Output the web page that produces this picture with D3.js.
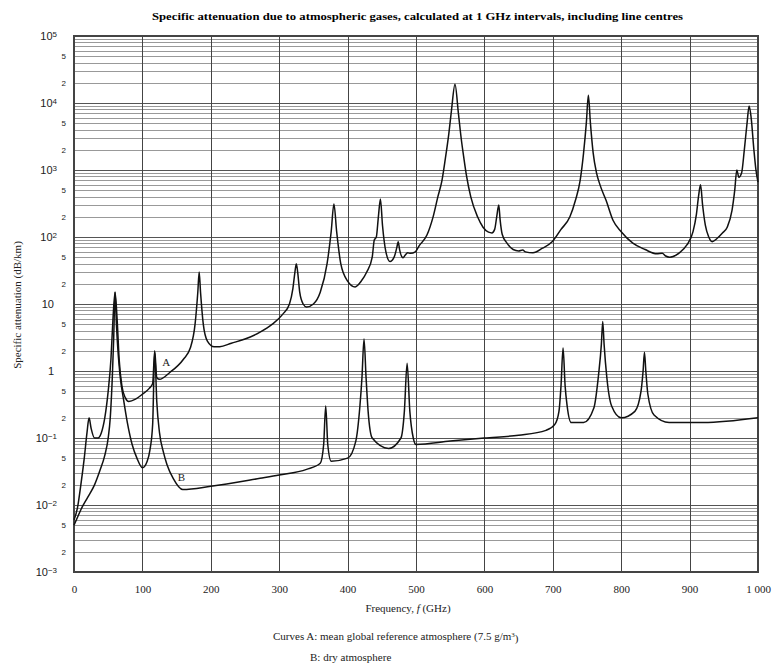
<!DOCTYPE html>
<html>
<head>
<meta charset="utf-8">
<script src="https://cdn.jsdelivr.net/npm/d3@7"></script>
<style>
	body { margin: 0; background: #fff; }
	svg { display: block; font-family: "Liberation Serif", "DejaVu Serif", serif; }
	.grid line { shape-rendering: crispEdges; }
	.grid .domain { display: none; }
</style>
</head>
<body>
<svg id="chart" width="772" height="663"></svg>
<script>
/*global d3 */
// Curve A: mean global reference atmosphere (7.5 g/m3), dB/km
var freqA = [0, 5, 10, 15, 19, 22, 25, 30, 35, 40, 45, 50, 54, 57, 60, 63, 66, 70, 75, 80,
	90, 100, 110, 115, 118, 121, 125, 140, 160, 170, 177, 181, 183, 185, 189, 195, 205, 213, 230, 250,
	272, 290, 305, 315, 320, 323, 325, 327, 330, 335, 340, 350, 360, 370, 376, 380, 384, 390, 400, 411,
	420, 428, 436, 439, 442, 445, 448, 451, 456, 462, 468, 472, 474, 476, 481, 485, 488, 492, 499, 505,
	516, 525, 532, 538, 543, 548, 552, 557, 562, 566, 570, 574, 580, 590, 598, 606, 611, 615, 618, 621,
	623, 626, 633, 642, 650, 656, 660, 671, 685, 699, 712, 725, 733, 740, 745, 749, 752, 755, 759, 764,
	769, 778, 788, 800, 817, 835, 852, 860, 865, 871, 885, 896, 905, 910, 913, 916, 919, 923, 928, 933,
	940, 948, 955, 962, 966, 969, 972, 976, 980, 984, 987, 990, 994, 997, 1000];
var attA = [0.006, 0.009, 0.02, 0.05, 0.12, 0.2, 0.14, 0.1, 0.1, 0.12, 0.2, 0.5, 1.5, 6, 15, 6, 1.5, 0.6, 0.4, 0.35,
	0.38, 0.45, 0.55, 0.65, 2.0, 0.8, 0.75, 0.95, 1.5, 2.2, 5, 15, 30, 15, 5, 2.8, 2.3, 2.3, 2.6, 3.0,
	3.8, 5, 7, 10, 17, 30, 40, 30, 15, 10, 9, 10, 15, 40, 120, 310, 120, 40, 22, 18,
	22, 30, 50, 90, 100, 200, 370, 150, 60, 43, 50, 70, 85, 65, 49, 55, 58, 57, 60, 75,
	107, 200, 400, 700, 1500, 3500, 8000, 19000, 7000, 3000, 1500, 800, 400, 200, 140, 118, 115, 130, 200, 300,
	180, 110, 81, 65, 62, 64, 60, 58, 68, 85, 130, 200, 350, 700, 1800, 5000, 13000, 5000, 1800, 900,
	600, 350, 178, 120, 81, 65, 56, 57, 52, 50, 58, 76, 120, 220, 400, 600, 300, 150, 100, 85,
	95, 115, 140, 250, 500, 1000, 780, 900, 2000, 5000, 9000, 6000, 2000, 1000, 660];

// Curve B: dry atmosphere, dB/km
var freqB = [0, 5, 10, 20, 30, 38, 45, 50, 53, 56, 58, 60, 62, 64, 66, 68, 72, 78, 85, 92,
	100, 107, 111, 115, 118, 121, 125, 131, 136, 145, 159, 200, 272, 300, 340, 360, 365, 368, 371, 376,
	400, 412, 418, 421, 424, 427, 430, 436, 460, 478, 483, 487, 491, 496, 500, 550, 600, 650, 690, 703,
	709, 712, 715, 718, 721, 727, 745, 760, 767, 771, 773, 775, 779, 786, 800, 820, 829, 832, 834, 836,
	839, 848, 870, 920, 1000];
var attB = [0.005, 0.0065, 0.0085, 0.013, 0.02, 0.033, 0.055, 0.1, 0.2, 0.8, 3, 15, 5, 2.2, 1.2, 0.75, 0.4, 0.17, 0.08, 0.05,
	0.036, 0.045, 0.066, 0.16, 1.9, 0.35, 0.12, 0.06, 0.04, 0.025, 0.017, 0.019, 0.025, 0.028, 0.034, 0.042, 0.08, 0.3, 0.08, 0.045,
	0.05, 0.09, 0.3, 0.8, 3.0, 0.8, 0.25, 0.1, 0.07, 0.1, 0.25, 1.3, 0.25, 0.1, 0.08, 0.09, 0.1, 0.11, 0.13, 0.16,
	0.25, 0.6, 2.2, 0.6, 0.3, 0.17, 0.17, 0.28, 0.9, 2.5, 5.5, 2.5, 0.8, 0.3, 0.2, 0.25, 0.5, 1.0, 1.9, 1.0,
	0.45, 0.22, 0.17, 0.17, 0.2];

var freqTicks = [0, 100, 200, 300, 400, 500, 600, 700, 800, 900, 1000];
var freqTickLabels = ['0', '100', '200', '300', '400', '500', '600', '700', '800', '900', '1 000'];
var decadeExps = [-3, -2, -1, 0, 1, 2, 3, 4, 5];
var curveNames = ['A', 'B'];
var curveLabelFreq = [135, 157];
var curveLabelAtt = [1.36, 0.026];

(function () {
	'use strict';
	var svg = d3.select('#chart'),
		left = 74, right = 758, top = 36, bottom = 572,
		x, y, gridH, minorVals, labelVals, line, yAxis, xAxis, g;

	x = d3.scaleLinear().domain([0, 1000]).range([left, right]);
	y = d3.scaleLog().domain([1e-3, 1e5]).range([bottom, top]);

	// horizontal grid: 1..9 for every decade
	gridH = [];
	decadeExps.forEach(function (e) {
		var k;
		for (k = 1; k <= 9; k++) {
			if (e < 5 || k === 1) {
				gridH.push(k * Math.pow(10, e));
			}
		}
	});

	svg.append('g')
		.attr('class', 'grid')
		.attr('transform', 'translate(' + left + ',0)')
		.call(d3.axisLeft(y).tickValues(gridH).tickSize(-(right - left)).tickFormat(''))
		.selectAll('line')
		.attr('stroke', function (d) {
			var m = d / Math.pow(10, Math.floor(Math.log10(d) + 1e-9));
			return Math.abs(m - 1) < 1e-6 ? '#555' : '#999';
		})
		.attr('stroke-width', 1);

	svg.append('g')
		.attr('class', 'grid')
		.attr('transform', 'translate(0,' + bottom + ')')
		.call(d3.axisBottom(x).tickValues(freqTicks).tickSize(-(bottom - top)).tickFormat(''))
		.selectAll('line')
		.attr('stroke', '#444')
		.attr('stroke-width', 1);

	// frame
	svg.append('rect')
		.attr('x', left).attr('y', top)
		.attr('width', right - left).attr('height', bottom - top)
		.attr('fill', 'none').attr('stroke', '#444').attr('stroke-width', 1.2)
		.attr('shape-rendering', 'crispEdges');

	// y tick labels
	labelVals = [];
	minorVals = {};
	decadeExps.forEach(function (e) {
		labelVals.push(Math.pow(10, e));
		if (e < 5) {
			labelVals.push(2 * Math.pow(10, e));
			labelVals.push(5 * Math.pow(10, e));
			minorVals[2 * Math.pow(10, e)] = '2';
			minorVals[5 * Math.pow(10, e)] = '5';
		}
	});

	yAxis = d3.axisLeft(y).tickValues(labelVals).tickSize(0).tickFormat('');
	g = svg.append('g')
		.attr('transform', 'translate(' + left + ',0)')
		.call(yAxis);
	g.select('.domain').remove();
	g.selectAll('.tick text').each(function (d) {
		var t = d3.select(this),
			e = Math.round(Math.log10(d));
		t.attr('fill', '#222').attr('dy', '0.35em');
		if (minorVals[d]) {
			t.attr('x', -8).attr('font-size', 8).text(minorVals[d]);
		} else if (e === 0 || e === 1) {
			t.attr('x', -20).attr('font-size', 11).text(e === 0 ? '1' : '10');
		} else {
			t.attr('x', -17).attr('font-size', 11).text('10');
			t.append('tspan')
				.attr('dy', '-0.45em')
				.attr('font-size', 8)
				.text(e < 0 ? '\u2212' + (-e) : String(e));
		}
	});

	// x tick labels
	xAxis = d3.axisBottom(x).tickValues(freqTicks).tickSize(0).tickPadding(13)
		.tickFormat(function (d, i) { return freqTickLabels[i]; });
	g = svg.append('g')
		.attr('transform', 'translate(0,' + bottom + ')')
		.call(xAxis);
	g.select('.domain').remove();
	g.selectAll('.tick text').attr('font-size', 11).attr('fill', '#222')
		.attr('font-family', '"Liberation Serif", serif');

	// curves
	line = d3.line()
		.x(function (d) { return x(d[0]); })
		.y(function (d) { return y(d[1]); })
		.curve(d3.curveMonotoneX);

	[[freqA, attA], [freqB, attB]].forEach(function (s) {
		svg.append('path')
			.datum(d3.zip(s[0], s[1]))
			.attr('d', line)
			.attr('fill', 'none')
			.attr('stroke', '#111')
			.attr('stroke-width', 1.5)
			.attr('stroke-linejoin', 'round');
	});

	curveNames.forEach(function (n, i) {
		svg.append('text')
			.attr('x', x(curveLabelFreq[i]))
			.attr('y', y(curveLabelAtt[i]))
			.attr('dy', '0.35em')
			.attr('text-anchor', 'middle')
			.attr('font-size', 11)
			.attr('fill', '#222')
			.text(n);
	});

	// title
	svg.append('text')
		.attr('x', 417.5).attr('y', 20)
		.attr('text-anchor', 'middle')
		.attr('font-size', 11)
		.attr('font-weight', 'bold')
		.attr('textLength', 531)
		.attr('lengthAdjust', 'spacingAndGlyphs')
		.text('Specific attenuation due to atmospheric gases, calculated at 1 GHz intervals, including line centres');

	// y axis title
	svg.append('text')
		.attr('transform', 'translate(21,305) rotate(-90)')
		.attr('text-anchor', 'middle')
		.attr('font-size', 11)
		.attr('fill', '#222')
		.text('Specific attenuation (dB/km)');

	// x axis title
	g = svg.append('text')
		.attr('x', 408).attr('y', 612)
		.attr('text-anchor', 'middle')
		.attr('font-size', 11)
		.attr('fill', '#222');
	g.append('tspan').text('Frequency, ');
	g.append('tspan').attr('font-style', 'italic').text('f');
	g.append('tspan').text(' (GHz)');

	// notes
	g = svg.append('text')
		.attr('x', 273).attr('y', 640)
		.attr('font-size', 11)
		.attr('fill', '#222');
	g.append('tspan').text('Curves A: mean global reference atmosphere (7.5 g/m');
	g.append('tspan').attr('dy', '-0.4em').attr('font-size', 7).text('3');
	g.append('tspan').attr('dy', '0.4em').text(')');

	svg.append('text')
		.attr('x', 310).attr('y', 661)
		.attr('font-size', 11)
		.attr('fill', '#222')
		.text('B: dry atmosphere');
}());
</script>
</body>
</html>
